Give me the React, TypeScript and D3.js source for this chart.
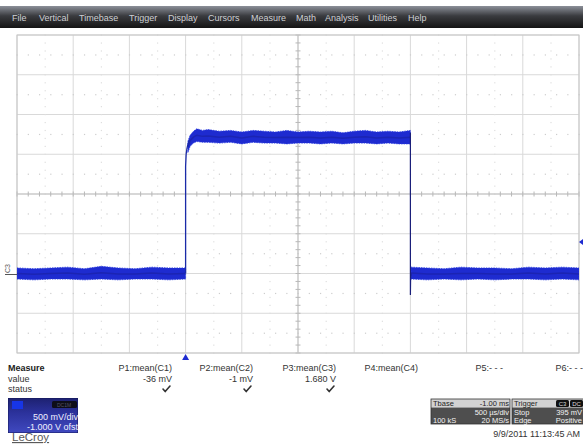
import React from "react";
import * as d3 from "d3";

// menu bar
const menuItems = ["File", "Vertical", "Timebase", "Trigger", "Display", "Cursors", "Measure", "Math", "Analysis", "Utilities", "Help"];
const menuX = [12, 39, 79, 129, 168, 208, 251, 296, 325, 368, 408];

// C3 trace, time in ms from trigger, volts. noise envelope
const preT = [-1.5, -1.35, -1.2, -1.05, -0.9, -0.75, -0.6, -0.45, -0.3, -0.15, 0.0];
const preHi = [0.07, 0.06, 0.07, 0.08, 0.06, 0.09, 0.07, 0.06, 0.08, 0.07, 0.07];
const preLo = [-0.07, -0.08, -0.07, -0.07, -0.08, -0.07, -0.08, -0.07, -0.07, -0.08, -0.07];

const highT = [0.02, 0.04, 0.07, 0.1, 0.15, 0.2, 0.3, 0.4, 0.5, 0.6, 0.7, 0.8, 0.9, 1.0, 1.1, 1.2, 1.3, 1.4, 1.5, 1.6, 1.7, 1.8, 1.9, 2.0];
const highHi = [1.66, 1.74, 1.79, 1.82, 1.8, 1.81, 1.79, 1.8, 1.78, 1.8, 1.79, 1.78, 1.8, 1.78, 1.79, 1.78, 1.79, 1.77, 1.79, 1.8, 1.78, 1.79, 1.78, 1.8];
const highLo = [1.52, 1.6, 1.64, 1.66, 1.65, 1.65, 1.64, 1.65, 1.63, 1.65, 1.64, 1.64, 1.63, 1.64, 1.64, 1.63, 1.64, 1.63, 1.64, 1.64, 1.63, 1.64, 1.63, 1.63];

const postT = [2.005, 2.15, 2.3, 2.45, 2.6, 2.75, 2.9, 3.05, 3.2, 3.35, 3.5];
const postHi = [0.08, 0.07, 0.06, 0.08, 0.07, 0.07, 0.06, 0.08, 0.07, 0.08, 0.07];
const postLo = [-0.07, -0.08, -0.07, -0.08, -0.07, -0.08, -0.07, -0.07, -0.08, -0.07, -0.08];

const riseT = [0.0, 0.0, 0.005, 0.012, 0.02, 0.035];
const riseV = [0.0, 1.35, 1.5, 1.57, 1.62, 1.68];
const fallT = [2.0, 2.0, 2.002, 2.005];
const fallV = [1.77, -0.27, -0.05, 0.0];

const triggerLevel = 0.395;

// measurements
const measNames = ["P1:mean(C1)", "P2:mean(C2)", "P3:mean(C3)", "P4:mean(C4)", "P5:- - -", "P6:- - -"];
const measValues = ["-36 mV", "-1 mV", "1.680 V", "", "", ""];
const measRight = [172, 253, 336, 418, 503, 583];

const W = 583;
const H = 444;
const font = "'Liberation Sans', Arial, sans-serif";

const x = d3.scaleLinear().domain([-1.5, 3.5]).range([17, 579]);
const y = d3.scaleLinear().domain([-1, 3]).range([353, 35]);

function Band({ t, hi, lo }: { t: number[]; hi: number[]; lo: number[] }) {
  const a = d3
    .area<number>()
    .x((_, i) => x(t[i]))
    .y0((_, i) => y(lo[i]))
    .y1((_, i) => y(hi[i]));
  const mid = d3
    .line<number>()
    .x((_, i) => x(t[i]))
    .y((_, i) => y((lo[i] + hi[i]) / 2));
  return (
    <g>
      <path d={a(t) || ""} fill="#1e2bd0" stroke="#2638e0" strokeWidth={0.8} strokeDasharray="1.5 1" />
      <path d={mid(t) || ""} fill="none" stroke="#1a1f9a" strokeWidth={1.5} opacity={0.55} />
    </g>
  );
}

export default function App() {
  const vLines = d3.range(-1.5, 3.5001, 0.5);
  const hLines = d3.range(-1, 3.0001, 0.5);
  const minorT = d3.range(-1.5, 3.5001, 0.1);
  const minorV = d3.range(-1, 3.0001, 0.1);
  const halfT = d3.range(-1.25, 3.5, 0.5);
  const halfV = d3.range(-0.75, 3, 0.5);
  const riseLine = d3.line<number>().x((_, i) => x(riseT[i])).y((_, i) => y(riseV[i]));
  const fallLine = d3.line<number>().x((_, i) => x(fallT[i])).y((_, i) => y(fallV[i]));
  const cx = x(1.0);
  const cy = y(1.0);
  const ty = y(triggerLevel);

  return (
    <svg width={W} height={H} style={{ position: "absolute", left: 0, top: 0, background: "#fff" }} fontFamily={font}>
      <defs>
        <linearGradient id="menu" x1="0" y1="0" x2="0" y2="1">
          <stop offset="0" stopColor="#8c9099" />
          <stop offset="0.45" stopColor="#3a3b3f" />
          <stop offset="1" stopColor="#141414" />
        </linearGradient>
        <linearGradient id="chan" x1="0" y1="0" x2="0" y2="1">
          <stop offset="0" stopColor="#1d2170" />
          <stop offset="0.4" stopColor="#2b319a" />
          <stop offset="1" stopColor="#4049c0" />
        </linearGradient>
        <clipPath id="chanClip">
          <rect x={8} y={398} width={70} height={35} />
        </clipPath>
        <clipPath id="plotClip">
          <rect x={17} y={35} width={562} height={318} />
        </clipPath>
      </defs>

      {/* menu bar */}
      <rect x={0} y={6} width={W} height={22} fill="url(#menu)" />
      {menuItems.map((m, i) => (
        <text key={m} x={menuX[i]} y={21} fontSize={9} fill="#cfd0d4">
          {m}
        </text>
      ))}

      {/* grid */}
      <g>
        {vLines.map((t) => (
          <line key={"v" + t} x1={x(t)} x2={x(t)} y1={35} y2={353} stroke="#d9d9d9" />
        ))}
        {hLines.map((v) => (
          <line key={"h" + v} x1={17} x2={579} y1={y(v)} y2={y(v)} stroke="#d9d9d9" />
        ))}
        {halfV.map((v) =>
          minorT.map((t) => (
            <rect key={"dv" + v + "_" + t} x={x(t) - 0.5} y={y(v) - 0.5} width={1.2} height={1.2} fill="#cdcdcd" />
          ))
        )}
        {halfT.map((t) =>
          minorV.map((v) => (
            <rect key={"dt" + t + "_" + v} x={x(t) - 0.5} y={y(v) - 0.5} width={1.2} height={1.2} fill="#dedede" />
          ))
        )}
        <line x1={cx} x2={cx} y1={35} y2={353} stroke="#c2c2c2" />
        <line x1={17} x2={579} y1={cy} y2={cy} stroke="#c2c2c2" />
        {minorT.map((t) => (
          <line key={"tx" + t} x1={x(t)} x2={x(t)} y1={cy - 2.5} y2={cy + 2.5} stroke="#b8b8b8" />
        ))}
        {minorV.map((v) => (
          <line key={"ty" + v} x1={cx - 2.5} x2={cx + 2.5} y1={y(v)} y2={y(v)} stroke="#b8b8b8" />
        ))}
        <rect x={17} y={35} width={562} height={318} fill="none" stroke="#c6c6c6" />
      </g>

      {/* trace */}
      <g clipPath="url(#plotClip)">
        <Band t={preT} hi={preHi} lo={preLo} />
        <Band t={highT} hi={highHi} lo={highLo} />
        <Band t={postT} hi={postHi} lo={postLo} />
        <path d={riseLine(riseT) || ""} fill="none" stroke="#1a2aa8" strokeWidth={1.3} />
        <path d={fallLine(fallT) || ""} fill="none" stroke="#1a1f7a" strokeWidth={1.2} />
      </g>

      {/* channel ground marker */}
      <text x={0} y={0} fontSize={7} fill="#555" transform={`translate(10,${y(0) - 0.5}) rotate(-90)`}>
        C3
      </text>
      <line x1={5} x2={17} y1={y(0) + 1} y2={y(0) + 1} stroke="#555" strokeWidth={1} />

      {/* trigger markers */}
      <path d={`M${x(0)},354 l-3.5,6 l7,0 z`} fill="#1e2bd0" />
      <path d={`M579,${ty} l4,-3 l0,6 z`} fill="#1e2bd0" />

      {/* measurement table */}
      <g fontSize={9} fill="#333">
        <text x={8} y={371} fontWeight="bold" fill="#222">
          Measure
        </text>
        <text x={8} y={382}>value</text>
        <text x={8} y={392}>status</text>
        {measNames.map((m, i) => (
          <text key={m} x={measRight[i]} y={371} textAnchor="end">
            {m}
          </text>
        ))}
        {measValues.map((v, i) =>
          v ? (
            <g key={"mv" + i}>
              <text x={measRight[i]} y={382} textAnchor="end">
                {v}
              </text>
              <path
                d={`M${measRight[i] - 9},${389} l2.2,2.6 l4.8,-5.6`}
                fill="none"
                stroke="#333"
                strokeWidth={1.6}
                strokeLinecap="round"
                strokeLinejoin="round"
              />
            </g>
          ) : null
        )}
      </g>

      {/* channel descriptor */}
      <g clipPath="url(#chanClip)">
        <rect x={8} y={398} width={70} height={35} fill="url(#chan)" stroke="#15185a" />
        <rect x={12} y={401} width={11} height={8} fill="#1735e6" />
        <rect x={52} y={401} width={25} height={7} rx={1.5} fill="#0e0e18" />
        <text x={64} y={407} fontSize={5} fill="#556" textAnchor="middle">
          DC1M
        </text>
        <text x={78} y={419.5} fontSize={9} fill="#f0f0ff" textAnchor="end">
          500 mV/div
        </text>
        <text x={78} y={429.5} fontSize={9} fill="#f0f0ff" textAnchor="end">
          -1.000 V ofst
        </text>
      </g>
      <text x={12} y={441} fontSize={11.5} fill="#5a5a5a" textDecoration="underline">
        LeCroy
      </text>

      {/* timebase and trigger boxes */}
      <g fontSize={7.5}>
        <rect x={431} y={399} width={79} height={8.5} fill="#d2d2d2" />
        <rect x={431} y={407.5} width={79} height={16.5} fill="#4e4e4e" />
        <rect x={431} y={399} width={79} height={25} fill="none" stroke="#333" strokeWidth={0.8} />
        <text x={433} y={406} fill="#222">Tbase</text>
        <text x={509} y={406} fill="#222" textAnchor="end">-1.00 ms</text>
        <text x={509} y={414.5} fill="#f2f2f2" textAnchor="end">500 µs/div</text>
        <text x={433} y={422.5} fill="#f2f2f2">100 kS</text>
        <text x={509} y={422.5} fill="#f2f2f2" textAnchor="end">20 MS/s</text>

        <rect x={512} y={399} width={72} height={8.5} fill="#d2d2d2" />
        <rect x={512} y={407.5} width={72} height={16.5} fill="#4e4e4e" />
        <rect x={512} y={399} width={72} height={25} fill="none" stroke="#333" strokeWidth={0.8} />
        <text x={514} y={406} fill="#222">Trigger</text>
        <rect x={556} y={400} width={13} height={7} rx={1.5} fill="#111" />
        <text x={562.5} y={405.8} fill="#ddd" fontSize={6} textAnchor="middle">C3</text>
        <rect x={570} y={400} width={13} height={7} rx={1.5} fill="#111" />
        <text x={576.5} y={405.8} fill="#ddd" fontSize={6} textAnchor="middle">DC</text>
        <text x={514} y={414.5} fill="#f2f2f2">Stop</text>
        <text x={582} y={414.5} fill="#f2f2f2" textAnchor="end">395 mV</text>
        <text x={514} y={422.5} fill="#f2f2f2">Edge</text>
        <text x={582} y={422.5} fill="#f2f2f2" textAnchor="end">Positive</text>
      </g>
      <text x={580} y={437} fontSize={9} fill="#333" textAnchor="end">
        9/9/2011 11:13:45 AM
      </text>
    </svg>
  );
}
